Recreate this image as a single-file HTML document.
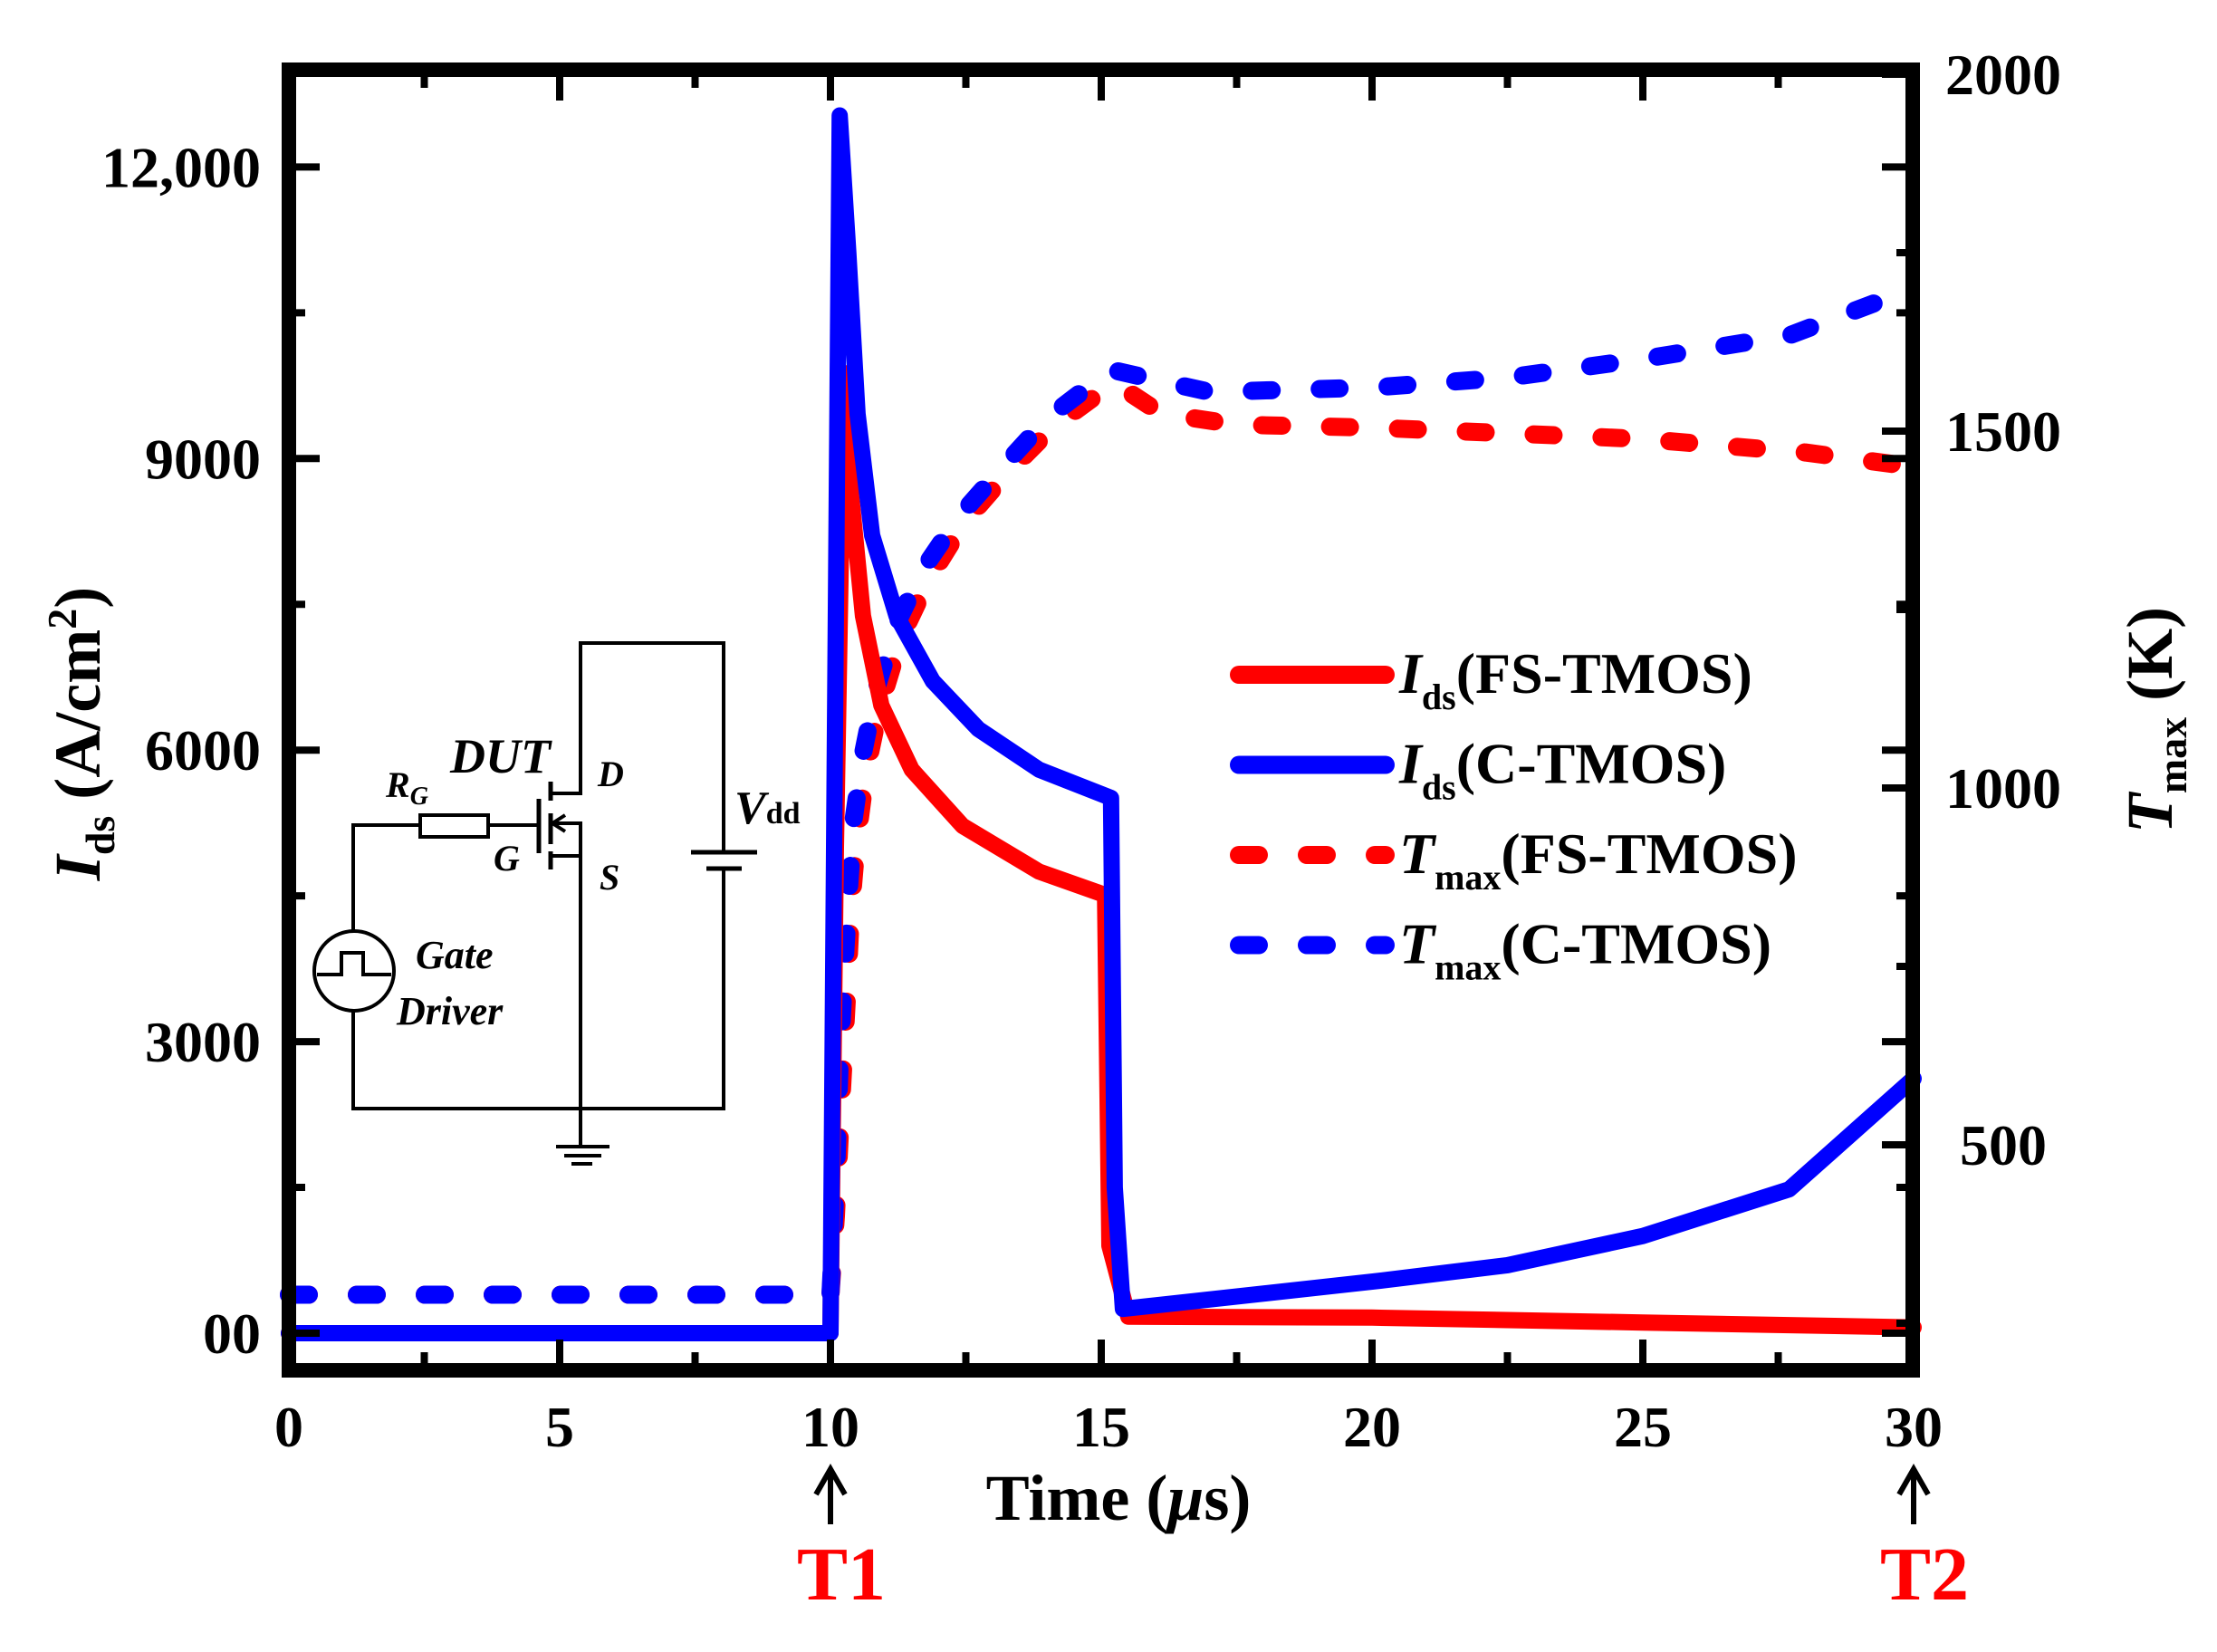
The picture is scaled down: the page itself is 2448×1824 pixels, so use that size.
<!DOCTYPE html>
<html><head><meta charset="utf-8"><style>
html,body{margin:0;padding:0;background:#fff}
svg{display:block}
text{font-family:"Liberation Serif",serif;font-weight:bold}
</style></head><body>
<svg id="chart" width="2448" height="1824" viewBox="0 0 2448 1824" xmlns="http://www.w3.org/2000/svg">
<g id="circuit" stroke="#000" stroke-width="4" fill="none">
<polyline points="608,876 641,876 641,710 799,710 799,941"/>
<line x1="763" y1="941" x2="836" y2="941" stroke-width="5"/>
<line x1="780" y1="959" x2="819" y2="959" stroke-width="5"/>
<polyline points="799,959 799,1224 390,1224 390,1117"/>
<line x1="595" y1="882" x2="595" y2="942" stroke-width="5"/>
<line x1="608" y1="863" x2="608" y2="884" stroke-width="5"/>
<line x1="608" y1="898" x2="608" y2="932" stroke-width="5"/>
<line x1="608" y1="940" x2="608" y2="960" stroke-width="5"/>
<polyline points="608,909 641,909 641,1264"/>
<line x1="608" y1="945" x2="641" y2="945"/>
<polyline points="624,900 610,909 624,918"/>
<polyline points="595,911 390,911 390,1028"/>
<rect x="464" y="900" width="75" height="24" fill="#fff"/>
<circle cx="391" cy="1072" r="44" fill="#fff"/>
<polyline points="350,1076 377,1076 377,1052 401,1052 401,1076 432,1076"/>
<line x1="614" y1="1266" x2="673" y2="1266"/>
<line x1="623" y1="1276" x2="664" y2="1276"/>
<line x1="631" y1="1285" x2="654" y2="1285"/>
</g>
<g font-style="italic" fill="#000">
<text x="497" y="853" font-size="54">DUT</text>
<text x="426" y="880" font-size="40">R<tspan font-size="28" dy="8">G</tspan></text>
<text x="660" y="868" font-size="40">D</text>
<text x="545" y="961" font-size="40">G</text>
<text x="662" y="982" font-size="40">S</text>
<text x="811" y="909" font-size="52">V<tspan font-style="normal" font-size="34">dd</tspan></text>
<text x="459" y="1069" font-size="44">Gate</text>
<text x="438" y="1131" font-size="44">Driver</text>
</g>
<g id="plot"></g>
<g id="axes"></g>
</svg>
<script>
const tIdsFS = [0,10,10.1,10.25,10.38,10.6,10.94,11.5,12.44,13.85,15.07,15.15,15.5,20,25,30];
const idsFS  = [0,0,5000,9880,8630,7380,6460,5800,5220,4750,4510,900,170,160,110,60];
const tIdsC = [0,10,10.08,10.17,10.33,10.5,10.77,11.22,11.89,12.73,13.85,15.18,15.25,15.4,20,22.5,25,27.7,30];
const idsC  = [0,0,6000,12530,11120,9460,8210,7380,6710,6216,5800,5508,1500,250,530,700,1000,1480,2620];
const tTFS = [0,10,10.1,10.2,10.3,10.38,10.48,10.65,10.9,11.3,11.8,12.45,13.25,14.1,15.0,15.3,16.1,17.5,20,25,28,30];
const tmaxFS = [290,290,400,560,700,830,920,1020,1110,1210,1290,1370,1440,1505,1555,1565,1525,1509,1505,1489,1470,1450];
const tTC = [0,10,10.1,10.17,10.27,10.35,10.43,10.6,10.84,11.22,11.72,12.39,13.18,14.0,14.9,15.18,16.1,17,20,22.5,25,27.7,30];
const tmaxC = [290,290,450,618,765,867,957,1048,1138,1230,1308,1382,1450,1518,1570,1586,1570,1555,1561,1575,1601,1634,1700];
const xTicks = [0,5,10,15,20,25,30];
const yLeftTicks = [0,3000,6000,9000,12000];
const yLeftLabels = ["00","3000","6000","9000","12,000"];
const yRightTicks = [500,1000,1500,2000];
const yRightLabels = ["500","1000","1500","2000"];
const legendLabels = [["I","ds","(FS-TMOS)"],["I","ds","(C-TMOS)"],["T","max","(FS-TMOS)"],["T","max","(C-TMOS)"]];

const NS = "http://www.w3.org/2000/svg";
const X = t => 319 + t*59.8;
const YL = v => 1472 - v*0.1073;
const YR = T => 870 - (T-1000)*0.788;
function mk(tag, attrs, parent){const e=document.createElementNS(NS,tag);for(const k in attrs)e.setAttribute(k,attrs[k]);parent.appendChild(e);return e;}
const plot=document.getElementById('plot'), axes=document.getElementById('axes');

function series(ts, vs, yf, color, dashed, name){
  const pts = ts.map((t,i)=>X(t).toFixed(1)+","+yf(vs[i]).toFixed(1)).join(" ");
  const a={points:pts,fill:"none",stroke:color,"stroke-width":dashed?20:18,"stroke-linejoin":"round","stroke-linecap":"round"};
  if(dashed)a["stroke-dasharray"]="22 53";
  const p=mk('polyline',a,plot);
  
  
}
series(tTFS,tmaxFS,YR,"#ff0000",true,"tmax-fs-tmos-line");
series(tTC,tmaxC,YR,"#0000ff",true,"tmax-c-tmos-line");
series(tIdsFS,idsFS,YL,"#ff0000",false,"ids-fs-tmos-line");
series(tIdsC,idsC,YL,"#0000ff",false,"ids-c-tmos-line");

const fr=mk('rect',{x:319,y:77,width:1793,height:1436,fill:"none",stroke:"#000","stroke-width":16},axes);


for(let t=0;t<=30;t+=2.5){
  const major = t%5===0, L = major?26:12;
  const b=mk('line',{x1:X(t),x2:X(t),y1:1513,y2:1513-8-L,stroke:"#000","stroke-width":8},axes);
  
  
  const tp=mk('line',{x1:X(t),x2:X(t),y1:77,y2:77+8+L,stroke:"#000","stroke-width":8},axes);
  
  
}
xTicks.forEach(t=>{
  const e=mk('text',{x:X(t),y:1597,"font-size":64,"text-anchor":"middle"},axes);
  e.textContent=String(t);
  
  
});
for(let v=0;v<=12000;v+=1500){
  const major=v%3000===0, L=major?26:10;
  const e=mk('line',{x1:319,x2:319+8+L,y1:YL(v),y2:YL(v),stroke:"#000","stroke-width":8},axes);
  
  
  const r=mk('line',{x1:2112,x2:2112-8-L,y1:YL(v),y2:YL(v),stroke:"#000","stroke-width":8},axes);
  
  
}
yLeftTicks.forEach((v,i)=>{
  const e=mk('text',{x:288,y:YL(v)+22,"font-size":64,"text-anchor":"end"},axes);
  e.textContent=yLeftLabels[i];
  
  
});
for(let T=250;T<=2000;T+=250){
  const major=T%500===0, L=major?26:10;
  const e=mk('line',{x1:2112,x2:2112-8-L,y1:YR(T),y2:YR(T),stroke:"#000","stroke-width":8},axes);
  
  
}
yRightTicks.forEach((T,i)=>{
  const e=mk('text',{x:2212,y:YR(T)+22,"font-size":64,"text-anchor":"middle"},axes);
  e.textContent=yRightLabels[i];
  
  
});
const legColors=["#ff0000","#0000ff","#ff0000","#0000ff"];
legendLabels.forEach((lab,i)=>{
  const y=745+i*99.5;
  const a={x1:1368,x2:1530,y1:y,y2:y,stroke:legColors[i],"stroke-width":20,"stroke-linecap":"round"};
  if(i>=2)a["stroke-dasharray"]="22 53";
  const l=mk('line',a,axes);
  
  
  const t=mk('text',{x:1545,y:y+20,"font-size":64},axes);
  
  
  const s1=mk('tspan',{"font-style":"italic"},t); s1.textContent=lab[0];
  const s2=mk('tspan',{"font-size":40,dy:18},t); s2.textContent=lab[1];
  const s3=mk('tspan',{dy:-18},t); s3.textContent=lab[2];
});
const xt=mk('text',{x:1235,y:1678,"font-size":72,"text-anchor":"middle"},axes);


xt.innerHTML='Time (<tspan font-style="italic">μ</tspan>s)';
const yl=mk('text',{x:0,y:0,"font-size":72,"text-anchor":"middle",transform:"translate(110,810) rotate(-90)"},axes);


yl.innerHTML='<tspan font-style="italic">I</tspan><tspan font-size="46" dy="16">ds</tspan><tspan dy="-16"> (A/cm</tspan><tspan font-size="46" dy="-26">2</tspan><tspan dy="26">)</tspan>';
const yr=mk('text',{x:0,y:0,"font-size":72,"text-anchor":"middle",transform:"translate(2398,795) rotate(-90)"},axes);


yr.innerHTML='<tspan font-style="italic">T</tspan><tspan font-size="46" dy="16">max</tspan><tspan dy="-16"> (K)</tspan>';
[[10,"T1"],[30,"T2"]].forEach(([t,lab])=>{
  const ar=mk('path',{d:`M${X(t)},1683 V1625 M${X(t)-16},1650 L${X(t)},1622 L${X(t)+16},1650`,stroke:"#000","stroke-width":6,fill:"none"},axes);
  
  
  const tx=mk('text',{x:X(t)+12,y:1766,"font-size":84,"text-anchor":"middle",fill:"#ff0000"},axes);
  tx.textContent=lab;
  
  
});
</script>
</body></html>
